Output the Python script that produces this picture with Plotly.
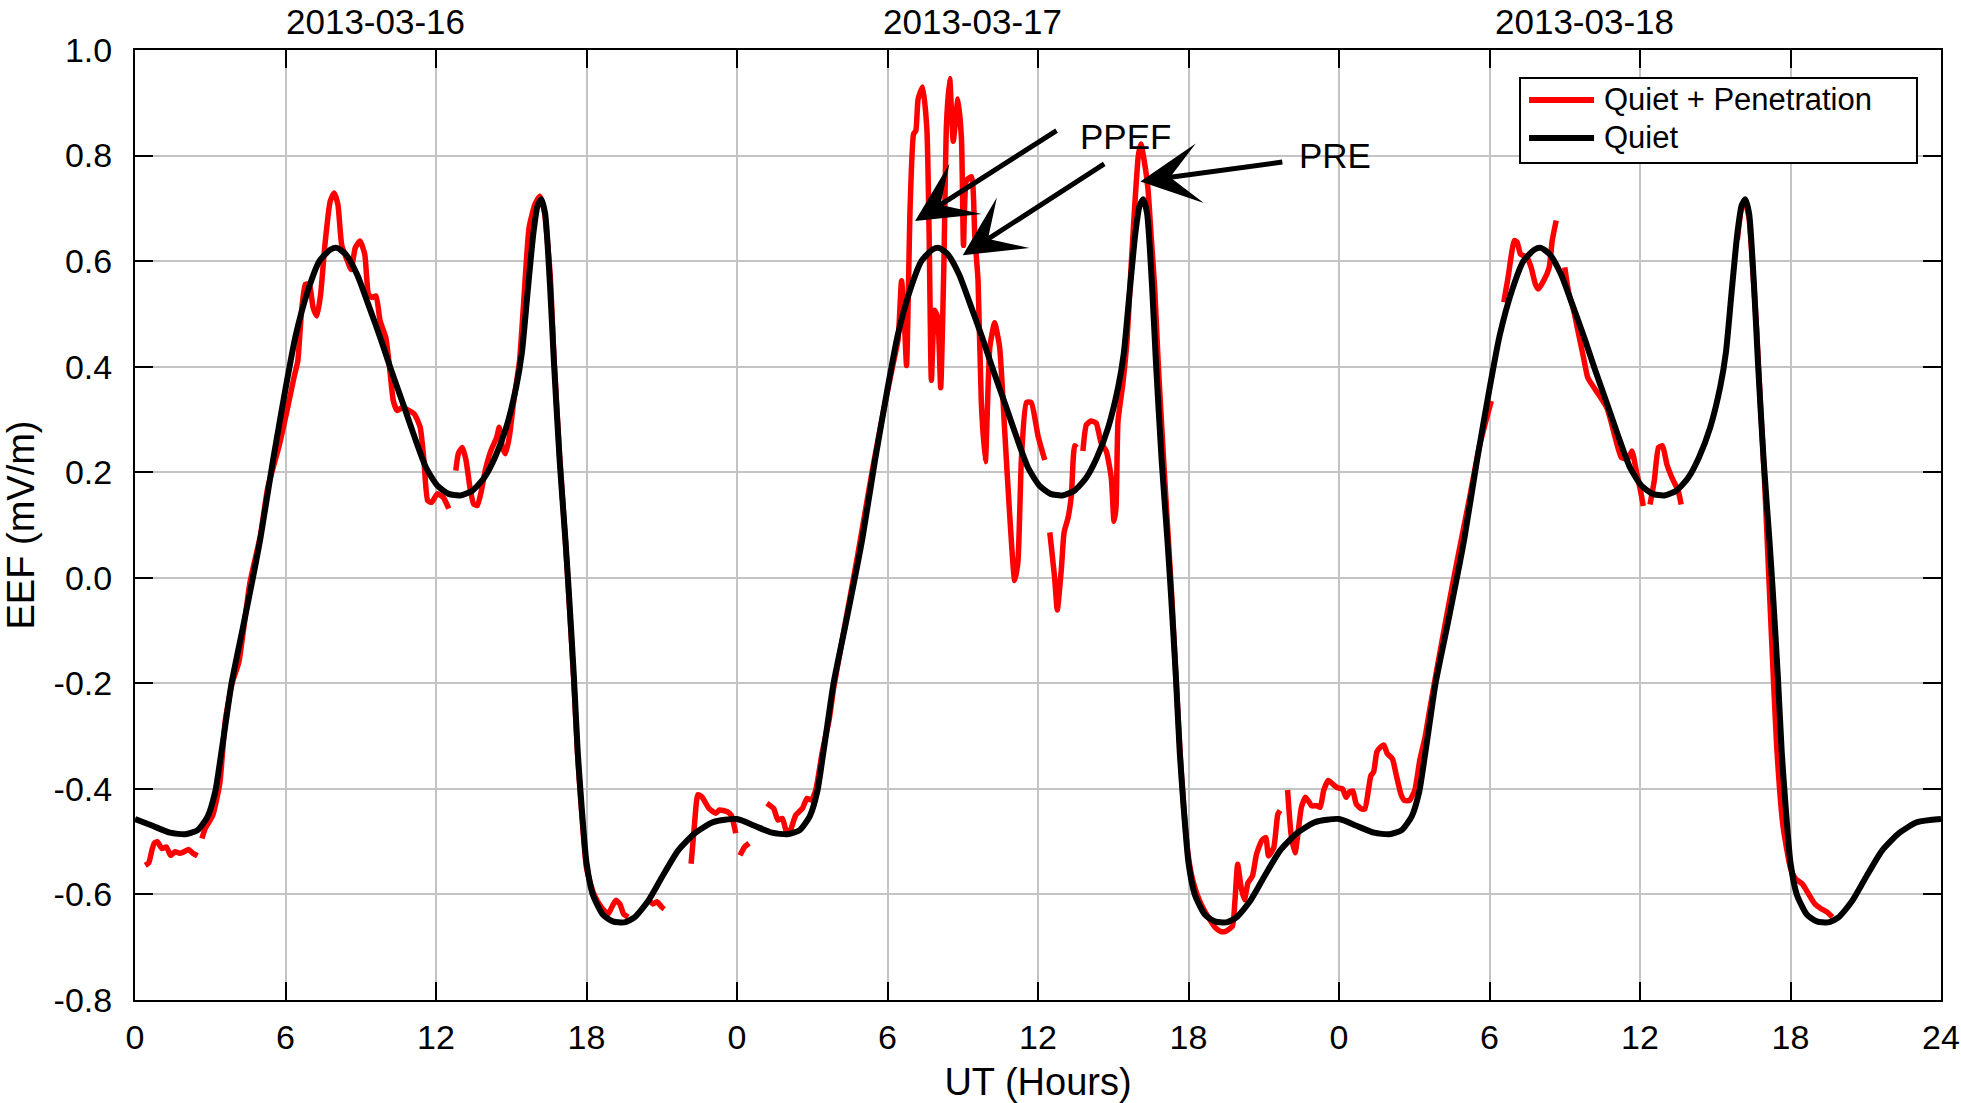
import plotly.graph_objects as go

# Quiet-time EEF, one day profile (UT hours -> mV/m); the same curve repeats each day
QUIET_HOURS = [0.0, 0.7, 1.4, 2.0, 2.5, 2.9, 3.2, 3.4, 3.6, 3.85, 4.3, 4.7, 5.0, 5.5,
               6.0, 6.4, 6.9, 7.35, 7.8, 8.05, 8.4, 8.85, 9.3, 9.8, 10.2, 10.7, 11.15,
               11.6, 12.05, 12.5, 12.97, 13.45, 13.9, 14.35, 14.8, 15.2, 15.42, 15.65,
               15.88, 16.05, 16.2, 16.35, 16.55, 16.7, 16.93, 17.16, 17.3, 17.5, 17.65,
               17.8, 18.0, 18.25, 18.65, 19.05, 19.5, 19.9, 20.45, 21.0, 21.65, 22.35,
               23.05]
QUIET_EEF = [-0.457, -0.470, -0.483, -0.486, -0.478, -0.452, -0.405, -0.345, -0.28, -0.2,
             -0.095, 0.0, 0.075, 0.222, 0.358, 0.458, 0.545, 0.600, 0.622, 0.625, 0.613,
             0.575, 0.518, 0.452, 0.395, 0.328, 0.266, 0.209, 0.175, 0.159, 0.156, 0.165,
             0.188, 0.228, 0.285, 0.362, 0.425, 0.54, 0.652, 0.705, 0.717, 0.69, 0.55,
             0.41, 0.222, 0.071, -0.03, -0.19, -0.33, -0.43, -0.54, -0.60, -0.638, -0.651,
             -0.653, -0.644, -0.613, -0.568, -0.517, -0.483, -0.463]
N_DAYS = 3

# Quiet + Penetration (gaps marked by None)
RED_HOURS = [
    0.41, 0.55, 0.68, 0.77, 0.89, 1.07, 1.25, 1.42, 1.6, 1.78, 1.96, 2.14, 2.31, 2.49, None,
    2.67, 2.8, 3.1, 3.38, 3.6, 3.87, 4.14, 4.58, 5.0, 5.29, 5.73, 6.03, 6.34, 6.49, 6.64,
    6.79, 6.95, 7.1, 7.25, 7.4, 7.56, 7.78, 7.94, 8.09, 8.24, 8.47, 8.62, 8.78, 8.97, 9.16,
    9.31, 9.46, 9.61, 9.77, 10.0, 10.15, 10.3, 10.45, 10.68, 10.91, 11.14, 11.37, 11.52,
    11.67, 11.83, 12.05, 12.28, 12.51, None,
    12.79, 12.89, 13.05, 13.2, 13.35, 13.5, 13.65, 13.81, 13.96, 14.19, 14.42, 14.52, 14.65,
    14.77, 14.92, 15.1, 15.33, 15.49, 15.71, 15.94, 16.14, 16.32, 16.55, 16.7, 16.93, 17.16,
    17.3, 17.5, 17.65, 17.8, 18.0, 18.3, 18.59, 18.86, 19.04, 19.18, 19.34, 19.48, 19.66, None,
    20.5, 20.65, 20.82, 21.0, 21.1, None,
    22.17, 22.3, 22.44, 22.6, 22.88, 23.15, 23.3, 23.6, 23.77, 23.95, None,
    24.12, 24.3, 24.48, None,
    25.19, 25.46, 25.63, 25.81, 25.99, 26.13, 26.34, 26.61, 26.79, 26.97, 27.15, 27.4, 27.67,
    27.85, 28.3, 28.8, 29.43, 29.9, 30.2, 30.42, 30.56, 30.66, 30.76, 30.9, 31.04, 31.13,
    31.22, 31.4, 31.57, 31.66, 31.75, 31.88, 32.0, 32.12, 32.25, 32.35, 32.48, 32.62, 32.81,
    32.95, 33.03, 33.15, 33.35, 33.48, 33.61, 33.74, 33.9, 34.08, 34.27, 34.47, 34.67, 34.87,
    35.07, 35.2, 35.34, 35.54, 35.73, 36.0, 36.27, None,
    36.47, 36.66, 36.77, 36.93, 37.04, 37.2, 37.33, 37.46, 37.55, None,
    37.79, 37.93, 38.12, 38.32, 38.52, 38.72, 38.92, 39.03, 39.11, 39.19, 39.38, 39.55, 39.7,
    39.85, 40.0, 40.1, 40.2, 40.38, 40.51, 40.65, 40.8, 41.0, 41.2, 41.35, 41.5, 41.65, 41.8,
    42.0, 42.18, 42.45, 42.8, 43.07, 43.27, 43.48, 43.75, 43.85, 43.96, 44.1, 44.23, 44.37,
    44.55, 44.71, 44.92, 45.08, 45.19, 45.4, 45.56, 45.65, None,
    45.95, 46.09, 46.25, 46.36, 46.5, 46.66, 46.77, 46.91, 47.11, 47.25, 47.39, 47.57, 47.73,
    47.94, 48.14, 48.28, 48.42, 48.55, 48.69, 48.9, 49.03, 49.17, 49.27, 49.38, 49.51, 49.65,
    49.79, 49.92, 50.13, 50.27, 50.47, 50.61, 50.81, 51.02, 51.22, 51.43, 51.57, 51.8, 52.3,
    52.7, 53.2, 53.6, 54.07, None,
    54.57, 54.74, 54.99, 55.1, 55.24, 55.49, 55.66, 55.83, 55.94, 56.16, 56.38, 56.5, 56.66, None,
    57.0, 57.17, 57.33, 57.5, 57.75, 57.92, 58.17, 58.34, 58.68, 58.84, 59.01, 59.26, 59.51,
    59.68, 59.85, 60.02, 60.13, None,
    60.4, 60.57, 60.74, 60.9, 61.07, 61.27, 61.52, 61.64, None,
    63.88, 64.05, 64.2, 64.35, 64.5, 64.65, 64.8, 64.95, 65.1, 65.25, 65.45, 65.7, 66.0, 66.2,
    66.47, 66.72, 66.97, 67.22, 67.47, 67.67,
]
RED_EEF = [
    -0.545, -0.54, -0.515, -0.503, -0.500, -0.513, -0.510, -0.526, -0.519, -0.522, -0.519,
    -0.515, -0.522, -0.527, None,
    -0.494, -0.475, -0.45, -0.39, -0.27, -0.2, -0.16, -0.01, 0.08, 0.17, 0.247, 0.31, 0.38,
    0.411, 0.505, 0.556, 0.556, 0.512, 0.496, 0.537, 0.625, 0.713, 0.729, 0.707, 0.631, 0.600,
    0.584, 0.625, 0.638, 0.613, 0.537, 0.531, 0.534, 0.487, 0.455, 0.398, 0.335, 0.317, 0.323,
    0.317, 0.310, 0.285, 0.222, 0.146, 0.143, 0.159, 0.153, 0.131, None,
    0.203, 0.235, 0.247, 0.222, 0.172, 0.140, 0.137, 0.165, 0.203, 0.241, 0.266, 0.285, 0.247,
    0.235, 0.266, 0.335, 0.411, 0.518, 0.663, 0.707, 0.723, 0.694, 0.575, 0.42, 0.23, 0.07,
    -0.04, -0.2, -0.34, -0.44, -0.55, -0.6, -0.624, -0.637, -0.621, -0.611, -0.619, -0.637,
    -0.643, None,
    -0.611, -0.618, -0.614, -0.624, -0.628, None,
    -0.542, -0.47, -0.411, -0.415, -0.437, -0.446, -0.440, -0.443, -0.450, -0.484, None,
    -0.526, -0.510, -0.503, None,
    -0.427, -0.437, -0.459, -0.456, -0.484, -0.478, -0.450, -0.437, -0.418, -0.421, -0.40,
    -0.33, -0.27, -0.21, -0.09, 0.04, 0.213, 0.33, 0.40, 0.451, 0.563, 0.50, 0.402, 0.70,
    0.841, 0.847, 0.907, 0.93, 0.85, 0.65, 0.374, 0.507, 0.493, 0.36, 0.6, 0.858, 0.946,
    0.827, 0.907, 0.83, 0.63, 0.753, 0.76, 0.648, 0.563, 0.332, 0.22, 0.437, 0.483, 0.437,
    0.28, 0.12, -0.005, 0.03, 0.227, 0.332, 0.332, 0.269, 0.223, None,
    0.086, 0.002, -0.061, 0.016, 0.086, 0.114, 0.156, 0.25, 0.247, None,
    0.240, 0.290, 0.297, 0.293, 0.255, 0.240, 0.19, 0.107, 0.133, 0.297, 0.367, 0.45, 0.58,
    0.70, 0.80, 0.822, 0.80, 0.739, 0.648, 0.55, 0.40, 0.23, 0.07, -0.05, -0.19, -0.32, -0.43,
    -0.53, -0.575, -0.613, -0.644, -0.663, -0.670, -0.670, -0.66, -0.613, -0.543, -0.587,
    -0.610, -0.578, -0.565, -0.524, -0.498, -0.492, -0.527, -0.511, -0.448, -0.441, None,
    -0.402, -0.486, -0.521, -0.486, -0.435, -0.416, -0.422, -0.432, -0.432, -0.435, -0.403,
    -0.384, -0.390, -0.398, -0.400, -0.416, -0.406, -0.404, -0.429, -0.438, -0.438, -0.403,
    -0.375, -0.368, -0.330, -0.321, -0.317, -0.333, -0.343, -0.371, -0.410, -0.422, -0.422,
    -0.403, -0.346, -0.302, -0.263, -0.2, -0.07, 0.03, 0.15, 0.25, 0.335, None,
    0.522, 0.569, 0.639, 0.636, 0.613, 0.607, 0.588, 0.556, 0.547, 0.563, 0.588, 0.639, 0.677, None,
    0.588, 0.537, 0.512, 0.474, 0.417, 0.379, 0.360, 0.348, 0.322, 0.297, 0.266, 0.228, 0.225,
    0.240, 0.203, 0.165, 0.136, None,
    0.139, 0.184, 0.247, 0.250, 0.215, 0.190, 0.165, 0.139, None,
    0.64, 0.70, 0.71, 0.68, 0.58, 0.47, 0.33, 0.20, 0.04, -0.12, -0.32, -0.47, -0.55, -0.57,
    -0.580, -0.599, -0.618, -0.627, -0.634, -0.643,
]

X_TICKS = [0, 6, 12, 18, 24, 30, 36, 42, 48, 54, 60, 66, 72]
X_TICK_TEXT = ["0", "6", "12", "18", "0", "6", "12", "18", "0", "6", "12", "18", "24"]
Y_TICKS = [-0.8, -0.6, -0.4, -0.2, 0.0, 0.2, 0.4, 0.6, 0.8, 1.0]
Y_TICK_TEXT = ["-0.8", "-0.6", "-0.4", "-0.2", "0.0", "0.2", "0.4", "0.6", "0.8", "1.0"]

DAY_BOUNDARIES = [24, 48]
DATE_LABELS = ["2013-03-16", "2013-03-17", "2013-03-18"]
DATE_LABEL_X = [9.6, 33.4, 57.8]

# arrows: (tip x, tip y, tail x, tail y)
ARROWS = [
    (31.1, 0.676, 36.8, 0.849),
    (33.0, 0.611, 38.7, 0.786),
    (40.08, 0.751, 45.8, 0.788),
]

SERIES_NAMES = ["Quiet + Penetration", "Quiet"]
SERIES_COLORS = ["#ff0000", "#000000"]

FONT = "Liberation Sans, Arial, Helvetica, sans-serif"

quiet_x = [h + 24 * d for d in range(N_DAYS) for h in QUIET_HOURS] + [24 * N_DAYS]
quiet_y = QUIET_EEF * N_DAYS + [QUIET_EEF[0]]

fig = go.Figure()

fig.add_trace(go.Scatter(
    x=RED_HOURS, y=RED_EEF, mode="lines", name=SERIES_NAMES[0], showlegend=False,
    line=dict(color=SERIES_COLORS[0], width=5.5, shape="spline", smoothing=0.5),
    connectgaps=False,
))
fig.add_trace(go.Scatter(
    x=quiet_x, y=quiet_y, mode="lines", name=SERIES_NAMES[1], showlegend=False,
    line=dict(color=SERIES_COLORS[1], width=6, shape="spline", smoothing=0.6),
))

# dashed day separators
for xb in DAY_BOUNDARIES:
    fig.add_shape(type="line", x0=xb, x1=xb, y0=1, y1=0, xref="x", yref="paper",
                  line=dict(color="black", width=2, dash="95px,14px"), layer="between")

# date labels above the plot
for xd, txt in zip(DATE_LABEL_X, DATE_LABELS):
    fig.add_annotation(x=xd, y=1.0305, xref="x", yref="paper", text=txt,
                       showarrow=False, xanchor="center", yanchor="middle",
                       font=dict(size=35, family=FONT, color="black"))

# arrows
for tx, ty, ax, ay in ARROWS:
    fig.add_annotation(x=tx, y=ty, ax=ax, ay=ay, xref="x", yref="y", axref="x", ayref="y",
                       text="", showarrow=True, arrowhead=3, arrowsize=2.0, arrowwidth=5,
                       arrowcolor="black", standoff=0, startstandoff=0)

fig.add_annotation(x=37.6, y=0.837, xref="x", yref="y", text="PPEF", showarrow=False,
                   xanchor="left", yanchor="middle", font=dict(size=35, family=FONT, color="black"))
fig.add_annotation(x=46.33, y=0.801, xref="x", yref="y", text="PRE", showarrow=False,
                   xanchor="left", yanchor="middle", font=dict(size=35, family=FONT, color="black"))

# legend box (drawn by hand to match the compact MATLAB legend)
fig.add_shape(type="rect", xref="paper", yref="paper", x0=0.7669, x1=0.9867,
              y0=0.8811, y1=0.9705, line=dict(color="black", width=2),
              fillcolor="white", layer="above")
for i, (name, col) in enumerate(zip(SERIES_NAMES, SERIES_COLORS)):
    row_y = 0.9474 - i * 0.04
    fig.add_shape(type="line", xref="paper", yref="paper", x0=0.7719, x1=0.8079,
                  y0=row_y, y1=row_y, line=dict(color=col, width=6), layer="above")
    fig.add_annotation(x=0.8123, y=row_y, xref="paper", yref="paper", text=name,
                       showarrow=False, xanchor="left", yanchor="middle",
                       font=dict(size=31, family=FONT, color="black"))

fig.update_layout(
    width=1961, height=1103,
    margin=dict(l=135, r=20, t=50, b=103),
    paper_bgcolor="white", plot_bgcolor="white",
    font=dict(family=FONT, size=34, color="black"),
    showlegend=False,
)

fig.update_xaxes(
    range=[0, 72], tickmode="array", tickvals=X_TICKS, ticktext=X_TICK_TEXT,
    ticks="inside", ticklen=18, tickwidth=2, tickcolor="black",
    showline=True, linewidth=2, linecolor="black", mirror="ticks",
    showgrid=True, gridcolor="#c4c4c4", gridwidth=1.5, zeroline=False,
    ticklabelstandoff=6,
    title=dict(text="UT (Hours)", font=dict(size=38, family=FONT), standoff=14),
    automargin=False,
)
fig.update_yaxes(
    range=[-0.8, 1.0], tickmode="array", tickvals=Y_TICKS, ticktext=Y_TICK_TEXT,
    ticks="inside", ticklen=18, tickwidth=2, tickcolor="black",
    showline=True, linewidth=2, linecolor="black", mirror="ticks",
    showgrid=True, gridcolor="#c4c4c4", gridwidth=1.5, zeroline=False,
    ticklabelstandoff=14,
    title=dict(text="EEF (mV/m)", font=dict(size=38, family=FONT), standoff=14),
    automargin=False,
)

# drop the default 8px page margin so the figure fills the window exactly
fig.write_html("out.html", config={"displayModeBar": False},
               post_script="document.body.style.margin='0';document.body.style.overflow='hidden';")
